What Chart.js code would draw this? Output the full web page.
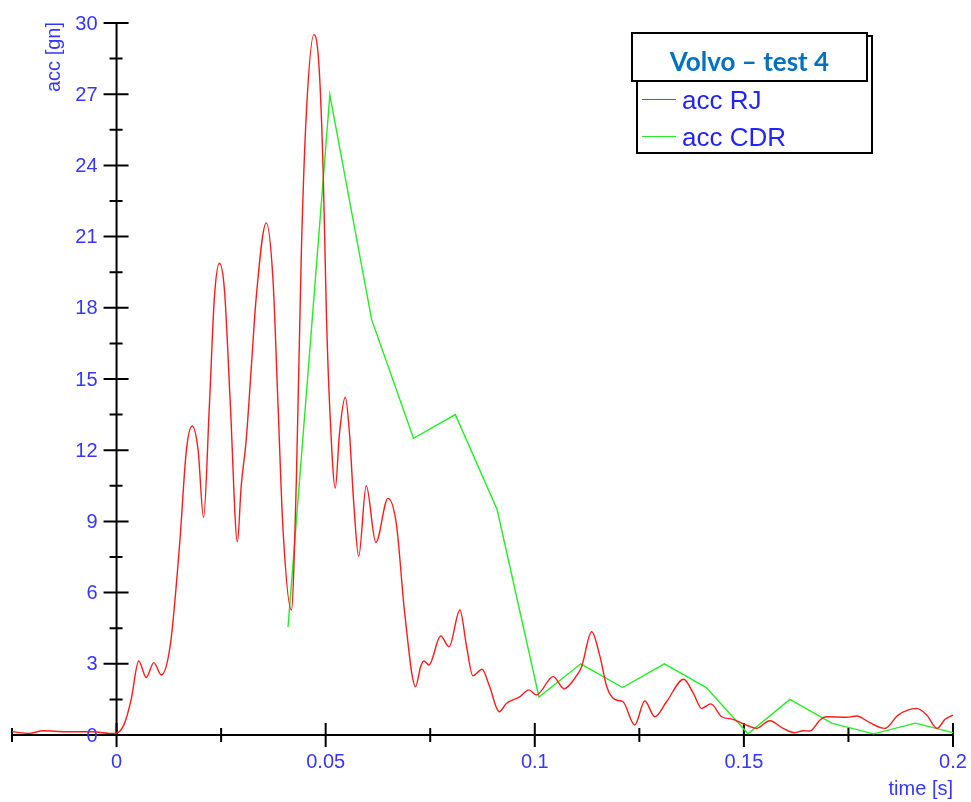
<!DOCTYPE html>
<html>
<head>
<meta charset="utf-8">
<title>Volvo - test 4</title>
<script src="https://cdn.jsdelivr.net/npm/chart.js@4.4.1/dist/chart.umd.min.js"></script>
<style>
  body { margin: 0; background: #fff; }
  #wrap { position: relative; width: 971px; height: 802px; }
  #legendBox {
    position: absolute; left: 636px; top: 35px; width: 237px; height: 119px;
    border: 2px solid #000; box-sizing: border-box; background: #fff;
  }
  #titleBox {
    position: absolute; left: 631px; top: 32px; width: 237px; height: 50px;
    border: 2px solid #000; box-sizing: border-box; background: #fff;
    font: bold 26px Lato, "Open Sans", sans-serif; color: #0070c0;
    text-align: center; line-height: 54px;
  }
  .item { position: absolute; left: 4px; height: 30px; font: 26px "Liberation Sans", Arial, sans-serif; color: #2222ff; line-height: 30px; }
  .item span.swatch { position: absolute; left: 0; top: 14px; width: 34px; height: 0; border-top: 1.3px solid; }
  .item span.lbl { position: absolute; left: 40px; top: 0; white-space: nowrap; }
</style>
</head>
<body>
<div id="wrap">
  <canvas id="accChart" width="971" height="802"></canvas>
  <div id="legendBox">
    <div class="item" style="top:48px"><span class="swatch" style="border-color:#ff2020"></span><span class="lbl">acc RJ</span></div>
    <div class="item" style="top:85px"><span class="swatch" style="border-color:#22ee22"></span><span class="lbl">acc CDR</span></div>
  </div>
  <div id="titleBox">Volvo – test 4</div>
</div>
<script>
// acc RJ (red, dense)
const rjTime = [
  -0.025, -0.0208, -0.0176, -0.012, -0.0057, -0.0017, 0, 0.0019, 0.0035, 0.0053,
  0.0071, 0.0089, 0.0107, 0.0129, 0.0151, 0.0167, 0.0181, 0.0195, 0.0208, 0.0222,
  0.0234, 0.0246, 0.0258, 0.0272, 0.0289, 0.0298, 0.031, 0.0322, 0.0334, 0.0358,
  0.0374, 0.0386, 0.0398, 0.0418, 0.043, 0.0442, 0.0454, 0.0472, 0.0484, 0.0494,
  0.0502, 0.051, 0.0523, 0.0533, 0.0547, 0.0557, 0.0567, 0.0579, 0.0597, 0.062,
  0.0649, 0.0669, 0.0689, 0.0715, 0.0727, 0.0735, 0.0747, 0.0775, 0.0795, 0.0821,
  0.0837, 0.0852, 0.0874, 0.0892, 0.0915, 0.0932, 0.0964, 0.0986, 0.1004, 0.1044,
  0.107, 0.11, 0.1112, 0.1136, 0.1156, 0.1172, 0.1191, 0.1211, 0.1239, 0.1263,
  0.1287, 0.1315, 0.1356, 0.1379, 0.1399, 0.1421, 0.1447, 0.1474, 0.1506, 0.153,
  0.1562, 0.1594, 0.1622, 0.1642, 0.1658, 0.1682, 0.1698, 0.1746, 0.177, 0.1801,
  0.1837, 0.1869, 0.1913, 0.1937, 0.1962, 0.1981, 0.2
];
const rjAcc = [
  0.14, 0.07, 0.18, 0.14, 0.14, 0.07, 0.08, 0.49, 1.5, 3.12,
  2.42, 3.05, 2.53, 3.86, 8.08, 12.0, 13.02, 12.0, 9.17, 13.9,
  18.45, 19.88, 18.75, 13.95, 8.14, 10.48, 12.43, 15.44, 18.45, 21.58,
  19.2, 13.95, 8.67, 5.27, 10.8, 20.45, 26.26, 29.51, 28.2, 23.75,
  17.56, 13.68, 10.4, 12.7, 14.23, 12.7, 9.8, 7.53, 10.5, 8.11,
  9.97, 8.9, 5.13, 2.04, 2.88, 3.12, 2.95, 4.17, 3.72, 5.27,
  3.72, 2.49, 2.77, 2.04, 0.98, 1.33, 1.61, 1.9, 1.69, 2.46,
  1.95, 2.5, 2.88, 4.35, 3.3, 2.04, 1.5, 1.4, 0.42, 1.43,
  0.77, 1.4, 2.35, 1.76, 1.12, 1.31, 0.77, 0.66, 0.42, 0.28,
  0.6, 0.28, 0.1, 0.18, 0.17, 0.63, 0.77, 0.75, 0.8, 0.52,
  0.28, 0.84, 1.12, 0.84, 0.28, 0.66, 0.84
];

// acc CDR (green, coarse)
const cdrTime = [0.041, 0.051, 0.061, 0.071, 0.081, 0.091, 0.101, 0.111, 0.121, 0.131, 0.141, 0.151, 0.161, 0.171, 0.181, 0.191, 0.2];
const cdrAcc  = [4.55, 26.97, 17.5, 12.5, 13.5, 9.5, 1.6, 3.0, 2.0, 3.0, 2.0, 0.05, 1.5, 0.5, 0.05, 0.5, 0.1];

// axis ticks
const xMajorTicks = [0, 0.05, 0.1, 0.15, 0.2];
const xTickLabels = ['0', '0.05', '0.1', '0.15', '0.2'];
const xMinorTicks = [-0.025, 0.025, 0.075, 0.125, 0.175];
const yMajorTicks = [0, 3, 6, 9, 12, 15, 18, 21, 24, 27, 30];
const yMinorTicks = [1.5, 4.5, 7.5, 10.5, 13.5, 16.5, 19.5, 22.5, 25.5, 28.5];

const labelBlue = '#3636ff';
const labelFont = '20px "Liberation Sans", Arial, sans-serif';

// draws axes crossing at 0 with ticks on both sides
const crossAxes = {
  id: 'crossAxes',
  beforeDatasetsDraw(chart) {
    const { ctx, scales: { x, y } } = chart;
    const x0 = x.getPixelForValue(0);
    const y0 = y.getPixelForValue(0);
    ctx.save();
    ctx.strokeStyle = '#000';
    ctx.lineWidth = 2;
    ctx.beginPath();
    ctx.moveTo(x.left, y0); ctx.lineTo(x.right, y0);
    ctx.moveTo(x0, y.top); ctx.lineTo(x0, y0);
    ctx.stroke();

    ctx.beginPath();
    xMajorTicks.forEach(v => { const p = x.getPixelForValue(v); ctx.moveTo(p, y0 - 12); ctx.lineTo(p, y0 + 12); });
    xMinorTicks.forEach(v => { const p = x.getPixelForValue(v); ctx.moveTo(p, y0 - 7); ctx.lineTo(p, y0 + 7); });
    yMajorTicks.forEach(v => { const p = y.getPixelForValue(v); ctx.moveTo(x0 - 13, p); ctx.lineTo(x0 + 12, p); });
    yMinorTicks.forEach(v => { const p = y.getPixelForValue(v); ctx.moveTo(x0 - 7, p); ctx.lineTo(x0 + 6, p); });
    ctx.stroke();

    ctx.fillStyle = labelBlue;
    ctx.font = labelFont;
    ctx.textAlign = 'center';
    ctx.textBaseline = 'middle';
    xMajorTicks.forEach((v, i) => ctx.fillText(xTickLabels[i], x.getPixelForValue(v), y0 + 27));
    ctx.textAlign = 'right';
    yMajorTicks.forEach(v => ctx.fillText(String(v), x0 - 19, y.getPixelForValue(v) + 1));

    // axis titles
    ctx.textAlign = 'right';
    ctx.textBaseline = 'alphabetic';
    ctx.fillText('time [s]', x.right, y0 + 60);
    ctx.save();
    ctx.translate(60, y.top - 1);
    ctx.rotate(-Math.PI / 2);
    ctx.textAlign = 'right';
    ctx.fillText('acc [gn]', 0, 0);
    ctx.restore();
    ctx.restore();
  }
};

const ctx = document.getElementById('accChart').getContext('2d');
new Chart(ctx, {
  type: 'line',
  data: {
    datasets: [
      {
        label: 'acc RJ',
        data: rjTime.map((t, i) => ({ x: t, y: rjAcc[i] })),
        borderColor: '#ff1a1a',
        borderWidth: 1.4,
        pointRadius: 0,
        cubicInterpolationMode: 'monotone',
        clip: 4
      },
      {
        label: 'acc CDR',
        data: cdrTime.map((t, i) => ({ x: t, y: cdrAcc[i] })),
        borderColor: '#22ee22',
        borderWidth: 1.4,
        pointRadius: 0,
        tension: 0,
        clip: 4
      }
    ]
  },
  options: {
    responsive: false,
    animation: false,
    layout: { padding: { left: 12, right: 18, top: 23, bottom: 67 } },
    plugins: { legend: { display: false }, tooltip: { enabled: false } },
    scales: {
      x: { type: 'linear', min: -0.025, max: 0.2, display: false },
      y: { type: 'linear', min: 0, max: 30, display: false }
    }
  },
  plugins: [crossAxes]
});
</script>
</body>
</html>
